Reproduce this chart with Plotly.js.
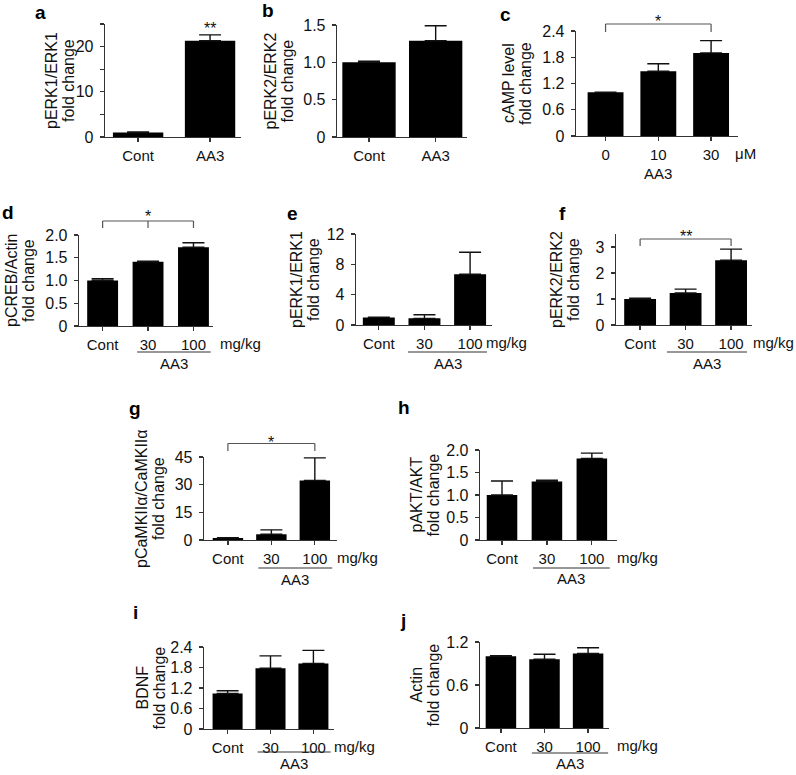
<!DOCTYPE html>
<html><head><meta charset="utf-8">
<script src="https://cdn.plot.ly/plotly-3.0.1.min.js"></script>
<style>html,body{margin:0;padding:0;background:#fff}#chart{width:796px;height:775px}</style>
</head><body><div id="chart"></div>
<script>
// ---------------- DATA ----------------
const catsA = ['Cont', 'AA3'];
const valsA = [1.0, 21.3];
const errsA = [0.1, 1.3];
const yTicksA = [0, 5, 10, 15, 20, 25];
const yTextA = ['0', '', '10', '', '20', ''];

const catsB = ['Cont', 'AA3'];
const valsB = [1.0, 1.29];
const errsB = [0.015, 0.2];
const yTicksB = [0, 0.5, 1.0, 1.5];
const yTextB = ['0', '0.5', '1.0', '1.5'];

const catsC = ['0', '10', '30'];
const valsC = [1.0, 1.48, 1.90];
const errsC = [0, 0.17, 0.28];
const yTicksC = [0, 0.6, 1.2, 1.8, 2.4];
const yTextC = ['0', '0.6', '1.2', '1.8', '2.4'];

const doseCats = ['Cont', '30', '100'];

const valsD = [1.0, 1.41, 1.73];
const errsD = [0.04, 0.015, 0.1];
const yTicksD = [0, 0.5, 1.0, 1.5, 2.0];
const yTextD = ['0', '0.5', '1.0', '1.5', '2.0'];

const valsE = [1.0, 0.88, 6.7];
const errsE = [0.04, 0.48, 2.9];
const yTicksE = [0, 4, 8, 12];
const yTextE = ['0', '4', '8', '12'];

const valsF = [1.0, 1.23, 2.49];
const errsF = [0.03, 0.15, 0.43];
const yTicksF = [0, 1, 2, 3];
const yTextF = ['0', '1', '2', '3'];

const valsG = [1.1, 3.1, 32.3];
const errsG = [0.2, 2.4, 12.2];
const yTicksG = [0, 15, 30, 45];
const yTextG = ['0', '15', '30', '45'];

const valsH = [1.0, 1.30, 1.81];
const errsH = [0.31, 0.03, 0.12];
const yTicksH = [0, 0.5, 1.0, 1.5, 2.0];
const yTextH = ['0', '0.5', '1.0', '1.5', '2.0'];

const valsI = [1.04, 1.78, 1.92];
const errsI = [0.08, 0.36, 0.38];
const yTicksI = [0, 0.6, 1.2, 1.8, 2.4];
const yTextI = ['0', '0.6', '1.2', '1.8', '2.4'];

const valsJ = [1.0, 0.96, 1.04];
const errsJ = [0.01, 0.07, 0.08];
const yTicksJ = [0, 0.6, 1.2];
const yTextJ = ['0', '0.6', '1.2'];

// ---------------- LAYOUT (pixels) ----------------
const W = 796, H = 775;
const FONT = 'Liberation Sans, Arial, sans-serif';
const AX = '#333';
const px = v => v / W;
const py = v => 1 - v / H;

const panels = [
  {letter:'a', L:[40,12], cats:catsA, vals:valsA, errs:errsA, tv:yTicksA, tt:yTextA, yr:[0,25], box:[105,241,24,137], xr:[-0.46,1.43], bw:0.7, ylab:['pERK1/ERK1','fold change'], ylx:60},
  {letter:'b', L:[268,10], cats:catsB, vals:valsB, errs:errsB, tv:yTicksB, tt:yTextB, yr:[0,1.5], box:[337,467,25,137], xr:[-0.48,1.47], bw:0.8, ylab:['pERK2/ERK2','fold change'], ylx:279},
  {letter:'c', L:[505,14], cats:catsC, vals:valsC, errs:errsC, tv:yTicksC, tt:yTextC, yr:[0,2.4], box:[576,738,31,136], xr:[-0.56,2.51], bw:0.68, ylab:['cAMP level','fold change'], ylx:517, unit:'\u03bcM', unitX:733, under:false, groupX:1, groupY:173,
   sig:{from:0, to:2, mid:false, top:24, leg:32, label:'*', ly:17}},
  {letter:'d', L:[8,212], cats:doseCats, vals:valsD, errs:errsD, tv:yTicksD, tt:yTextD, yr:[0,2], box:[79,213,235,326], xr:[-0.52,2.43], bw:0.68, ylab:['pCREB/Actin','fold change'], ylx:20, unit:'mg/kg', unitX:218, under:[0.76,2.38,352], groupY:363,
   sig:{from:0, to:2, mid:true, top:221, leg:228, label:'*', ly:212}},
  {letter:'e', L:[292,213], cats:doseCats, vals:valsE, errs:errsE, tv:yTicksE, tt:yTextE, yr:[0,12], box:[356,492,234,325], xr:[-0.5,2.48], bw:0.7, ylab:['pERK1/ERK1','fold change'], ylx:305, unit:'mg/kg', unitX:484, under:[0.64,2.37,352], groupY:363},
  {letter:'f', L:[562,213], cats:doseCats, vals:valsF, errs:errsF, tv:yTicksF, tt:yTextF, yr:[0,3.5], box:[616,752,234,325], xr:[-0.53,2.46], bw:0.7, ylab:['pERK2/ERK2','fold change'], ylx:565, unit:'mg/kg', unitX:751, under:[0.59,2.35,352], groupY:363,
   sig:{from:0, to:2, mid:false, top:239, leg:246, label:'**', ly:232}},
  {letter:'g', L:[135,408], cats:doseCats, vals:valsG, errs:errsG, tv:yTicksG, tt:yTextG, yr:[0,45], box:[204,337,457,540], xr:[-0.55,2.51], bw:0.7, ylab:['pCaMKII\u03b1/CaMKII\u03b1','fold change'], ylx:150, unit:'mg/kg', unitX:335, under:[0.7,2.4,568], groupY:579,
   sig:{from:0, to:2, mid:false, top:443.5, leg:451, label:'*', ly:438}},
  {letter:'h', L:[404,407], cats:doseCats, vals:valsH, errs:errsH, tv:yTicksH, tt:yTextH, yr:[0,2], box:[480,617,450,540], xr:[-0.49,2.56], bw:0.68, ylab:['pAKT/AKT','fold change'], ylx:424, unit:'mg/kg', unitX:615, under:[0.69,2.4,568], groupY:578},
  {letter:'i', L:[135,612], cats:doseCats, vals:valsI, errs:errsI, tv:yTicksI, tt:yTextI, yr:[0,2.4], box:[204,334,647,729], xr:[-0.55,2.48], bw:0.7, ylab:['BDNF','fold change'], ylx:150, unit:'mg/kg', unitX:332, under:[0.7,2.4,752], groupY:763},
  {letter:'j', L:[403,620], cats:doseCats, vals:valsJ, errs:errsJ, tv:yTicksJ, tt:yTextJ, yr:[0,1.2], box:[480,609,642,728], xr:[-0.48,2.48], bw:0.7, ylab:['Actin','fold change'], ylx:424, unit:'mg/kg', unitX:615, under:[0.71,2.46,753], groupY:763}
];

const data = [];
const layout = {
  width: W, height: H,
  margin: {l:0, r:0, t:0, b:0},
  paper_bgcolor: '#fff', plot_bgcolor: 'rgba(0,0,0,0)',
  showlegend: false,
  font: {family: FONT, size: 15, color: '#111'},
  annotations: [], shapes: []
};

panels.forEach((p, i) => {
  const k = i + 1;
  const sfx = k === 1 ? '' : String(k);
  const xr = 'x' + sfx, yr = 'y' + sfx;
  const [x0, x1, yTop, yBase] = p.box;
  const hPx = yBase - yTop;
  const dom = v => (yBase - v) / hPx; // pixel y -> y-domain fraction

  data.push({
    type: 'bar', x: p.cats, y: p.vals, xaxis: xr, yaxis: yr,
    width: p.bw,
    marker: {color: '#000', line: {width: 0}},
    error_y: {type: 'data', symmetric: false, array: p.errs, arrayminus: p.errs.map(() => 0),
              color: '#111', thickness: 1.4, width: 11},
    hoverinfo: 'skip', showlegend: false
  });

  layout['xaxis' + sfx] = {
    domain: [px(x0), px(x1)], anchor: yr, type: 'category', range: p.xr,
    showline: true, linecolor: AX, linewidth: 1.3,
    ticks: 'outside', ticklen: 4, tickwidth: 1.3, tickcolor: AX,
    tickfont: {family: FONT, size: 15, color: '#111'}, ticklabelstandoff: 1,
    showgrid: false, zeroline: false, fixedrange: true
  };
  layout['yaxis' + sfx] = {
    domain: [py(yBase), py(yTop)], anchor: xr, range: p.yr,
    tickmode: 'array', tickvals: p.tv, ticktext: p.tt,
    showline: true, linecolor: AX, linewidth: 1.3,
    ticks: 'outside', ticklen: 4, tickwidth: 1.3, tickcolor: AX,
    tickfont: {family: FONT, size: 16, color: '#111'}, ticklabelstandoff: 3,
    showgrid: false, zeroline: false, fixedrange: true
  };

  // panel letter
  layout.annotations.push({xref:'paper', yref:'paper', x:px(p.L[0]), y:py(p.L[1]), text:'<b>' + p.letter + '</b>',
    showarrow:false, xanchor:'center', yanchor:'middle', font:{family:FONT, size:19, color:'#000'}});

  // y label (two lines)
  const yMid = (yTop + yBase) / 2;
  [p.ylx - 8.5, p.ylx + 8.5].forEach((cx, li) => {
    layout.annotations.push({xref:'paper', yref:'paper', x:px(cx), y:py(yMid), text:p.ylab[li], textangle:-90,
      showarrow:false, xanchor:'center', yanchor:'middle', font:{family:FONT, size:16, color:'#111'}});
  });

  // unit label
  if (p.unit) {
    layout.annotations.push({xref:'paper', yref:yr + ' domain', x:px(p.unitX), y:dom(yBase + 17), text:p.unit,
      showarrow:false, xanchor:'left', yanchor:'middle', font:{family:FONT, size:15, color:'#111'}});
  }
  // underline + group label
  if (p.under) {
    const [u0, u1, uy] = p.under;
    layout.shapes.push({type:'line', xref:xr, yref:yr + ' domain', x0:u0, x1:u1, y0:dom(uy), y1:dom(uy),
      line:{color:'#333', width:1.2}});
    layout.annotations.push({xref:xr, yref:yr + ' domain', x:(u0 + u1) / 2, y:dom(p.groupY), text:'AA3',
      showarrow:false, xanchor:'center', yanchor:'middle', font:{family:FONT, size:15, color:'#111'}});
  } else if (p.groupX !== undefined) {
    layout.annotations.push({xref:xr, yref:yr + ' domain', x:p.groupX, y:dom(p.groupY), text:'AA3',
      showarrow:false, xanchor:'center', yanchor:'middle', font:{family:FONT, size:15, color:'#111'}});
  }
  // significance bracket
  if (p.sig) {
    const s = p.sig;
    const ln = (a, b, c, d) => layout.shapes.push({type:'line', xref:xr, yref:yr + ' domain',
      x0:a, x1:b, y0:dom(c), y1:dom(d), line:{color:'#555', width:1.2}});
    ln(s.from, s.to, s.top, s.top);
    ln(s.from, s.from, s.top, s.leg);
    ln(s.to, s.to, s.top, s.leg);
    if (s.mid) ln((s.from + s.to) / 2, (s.from + s.to) / 2, s.top, s.leg);
    layout.annotations.push({xref:xr, yref:yr + ' domain', x:(s.from + s.to) / 2, y:dom(s.ly), text:s.label,
      showarrow:false, xanchor:'center', yanchor:'middle', yshift:-4, font:{family:FONT, size:16, color:'#111'}});
  }
});

// significance mark above AA3 bar in panel a
layout.annotations.push({xref:'x', yref:'y', x:1, y:valsA[1] + errsA[1], text:'**', showarrow:false,
  xanchor:'center', yanchor:'bottom', yshift:-4, font:{family:FONT, size:16, color:'#111'}});

Plotly.newPlot('chart', data, layout, {staticPlot: true, displayModeBar: false});
</script>
</body></html>
